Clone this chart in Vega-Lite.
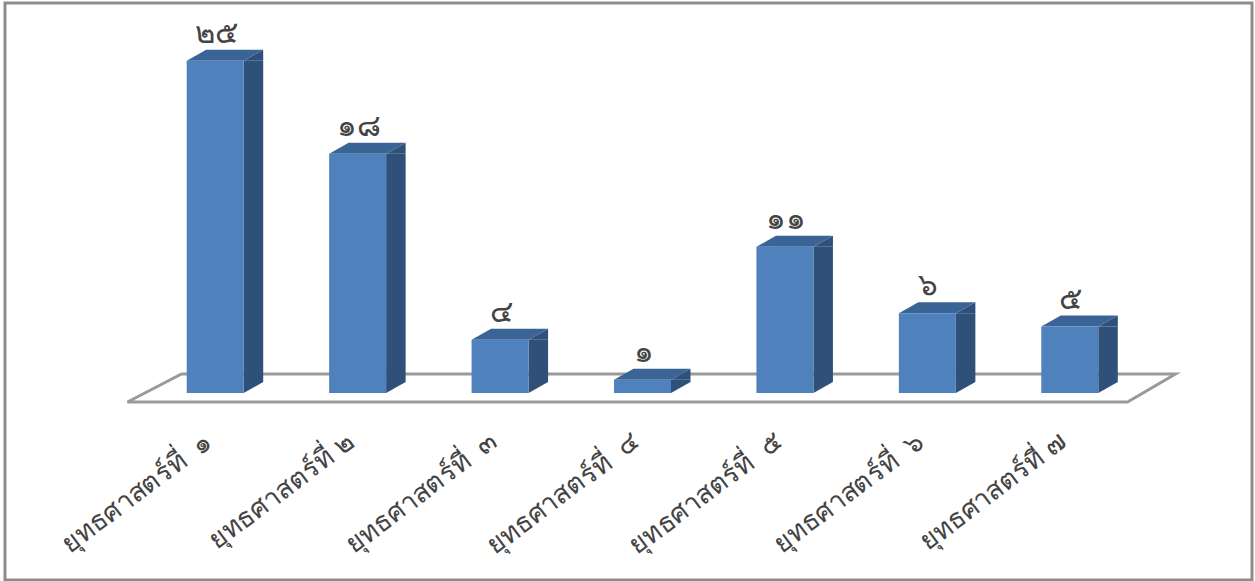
{
  "$schema": "https://vega.github.io/schema/vega-lite/v6.json",
  "width": 1247,
  "height": 577,
  "padding": {"left": 5, "top": 3, "right": 3, "bottom": 1},
  "autosize": {"type": "none"},
  "background": "white",
  "view": {"stroke": "#8c8c8c", "strokeWidth": 3, "fill": "white"},
  "data": {"values": [
    {"name": "ยุทธศาสตร์ที่\u00a0\u00a0๑", "count": 25, "label": "๒๕"},
    {"name": "ยุทธศาสตร์ที่ ๒", "count": 18, "label": "๑๘"},
    {"name": "ยุทธศาสตร์ที่\u00a0\u00a0๓", "count": 4, "label": "๔"},
    {"name": "ยุทธศาสตร์ที่\u00a0\u00a0๔", "count": 1, "label": "๑"},
    {"name": "ยุทธศาสตร์ที่\u00a0\u00a0๕", "count": 11, "label": "๑๑"},
    {"name": "ยุทธศาสตร์ที่\u00a0\u00a0๖", "count": 6, "label": "๖"},
    {"name": "ยุทธศาสตร์ที่ ๗", "count": 5, "label": "๕"}
  ]},
  "encoding": {
    "x": {"field": "name", "type": "nominal",
      "scale": {"domain": ["ยุทธศาสตร์ที่\u00a0\u00a0๑", "ยุทธศาสตร์ที่ ๒", "ยุทธศาสตร์ที่\u00a0\u00a0๓", "ยุทธศาสตร์ที่\u00a0\u00a0๔", "ยุทธศาสตร์ที่\u00a0\u00a0๕", "ยุทธศาสตร์ที่\u00a0\u00a0๖", "ยุทธศาสตร์ที่ ๗"], "range": [139, 1136], "padding": 0},
      "axis": {"title": null, "orient": "bottom", "offset": -172, "labelAngle": -37, "labelAlign": "right", "labelBaseline": "top", "labelFontSize": 27, "labelFont": "Noto Sans", "labelColor": "#444444", "domain": false, "ticks": false, "labelPadding": 20, "labelOffset": -14, "labelLimit": 0, "grid": false}},
    "y": {"field": "count", "type": "quantitative",
      "scale": {"domain": [0, 29.35], "range": [390, 0], "nice": false},
      "axis": null}
  },
  "layer": [
    {"mark": {"type": "point", "filled": true, "fill": "white", "stroke": "#9a9a9a", "strokeWidth": 3, "opacity": 1, "size": 4,
       "shape": "M-515,9L485,9L533,-19L-461,-19Z"},
     "transform": [{"filter": "datum.label === '๑'"}],
     "encoding": {"y": {"datum": 0}}},
    {"mark": {"type": "bar", "fill": "#2f5079", "width": 19.5, "xOffset": 38.25, "y2Offset": -11},
     "encoding": {"y2": {"datum": 0}}},
    {"mark": {"type": "point", "filled": true, "fill": "#2f5079", "opacity": 1, "size": 4, "shape": "M28.5,0L48,0L48,-11Z"}},
    {"mark": {"type": "point", "filled": true, "fill": "#2f5079", "opacity": 1, "size": 4, "shape": "M28.5,0L48,-11L28.5,-11Z"},
     "encoding": {"y": {"datum": 0}}},
    {"mark": {"type": "point", "filled": true, "fill": "#3b6496", "opacity": 1, "size": 4, "shape": "M-28.5,0L28.5,0L48,-11L-9,-11Z"}},
    {"mark": {"type": "bar", "fill": "#4f81bd", "width": 57},
     "encoding": {"y2": {"datum": 0}}},
    {"mark": {"type": "text", "fontSize": 31, "font": "Noto Sans", "color": "#444444", "dx": 1, "dy": -27, "baseline": "middle"},
     "encoding": {"text": {"field": "label"}}}
  ]
}
